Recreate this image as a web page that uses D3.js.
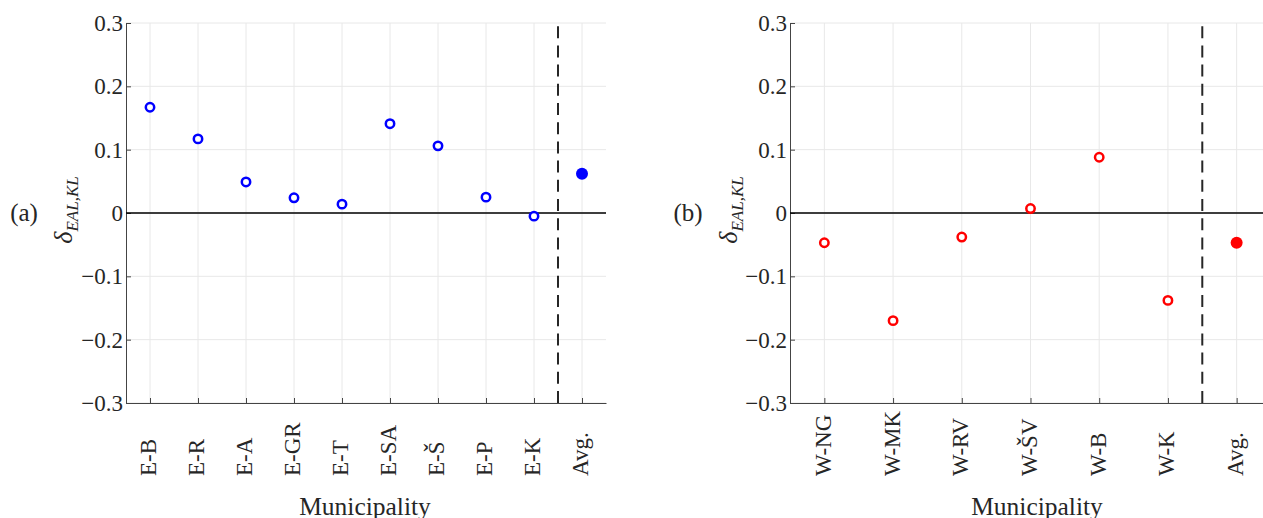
<!DOCTYPE html>
<html>
<head>
<meta charset="utf-8">
<script src="https://cdn.jsdelivr.net/npm/d3@7"></script>
<style>
  html, body { margin: 0; padding: 0; background: #fff; }
  svg { display: block; }
  text { font-family: "Liberation Serif", "DejaVu Serif", serif; fill: #262626; }
</style>
</head>
<body>
<svg id="chart" width="1263" height="518"></svg>
<script>
// Panel (a): eastern municipalities
const eastCategories = ["E-B", "E-R", "E-A", "E-GR", "E-T", "E-SA", "E-Š", "E-P", "E-K"];
const eastValues = [0.167, 0.117, 0.049, 0.024, 0.014, 0.141, 0.106, 0.025, -0.005];
const eastAverage = 0.062;

// Panel (b): western municipalities
const westCategories = ["W-NG", "W-MK", "W-RV", "W-ŠV", "W-B", "W-K"];
const westValues = [-0.047, -0.170, -0.038, 0.007, 0.088, -0.138];
const westAverage = -0.047;

const avgLabel = "Avg.";
const yTickValues = [-0.3, -0.2, -0.1, 0, 0.1, 0.2, 0.3];
const yDomain = [-0.3, 0.3];

const svg = d3.select("#chart");
svg.append("rect").attr("width", 1263).attr("height", 518).attr("fill", "#fff");

const plotTop = 23, plotBottom = 403;
const y = d3.scaleLinear().domain(yDomain).range([plotBottom, plotTop]);
const fmt = v => v === 0 ? "0" : (v < 0 ? "\u2212" : "") + Math.abs(v).toFixed(1);

function drawPanel(opt) {
  const cats = opt.categories.concat([avgLabel]);
  const x = d3.scalePoint().domain(cats).range([opt.left, opt.right]).padding(0.5);
  const g = svg.append("g");

  // grid
  g.append("g").selectAll("line").data(cats).join("line")
    .attr("x1", d => x(d)).attr("x2", d => x(d))
    .attr("y1", plotTop).attr("y2", plotBottom)
    .attr("stroke", "#e8e8e8").attr("stroke-width", 1);
  g.append("g").selectAll("line").data(yTickValues).join("line")
    .attr("x1", opt.left).attr("x2", opt.right)
    .attr("y1", d => y(d)).attr("y2", d => y(d))
    .attr("stroke", "#e8e8e8").attr("stroke-width", 1);

  // y axis (ticks pointing inward)
  const ya = g.append("g").attr("transform", `translate(${opt.left},0)`)
    .call(d3.axisLeft(y).tickValues(yTickValues).tickFormat(fmt)
      .tickSizeInner(-5).tickSizeOuter(0).tickPadding(3));
  ya.attr("font-family", null);
  ya.select(".domain").attr("stroke", "#444");
  ya.selectAll(".tick line").attr("stroke", "#444");
  ya.selectAll(".tick text").attr("font-size", 23).attr("fill", "#262626")
    .attr("font-family", "Liberation Serif");

  // x axis with vertical labels
  const xa = g.append("g").attr("transform", `translate(0,${plotBottom})`)
    .call(d3.axisBottom(x).tickSizeInner(-5).tickSizeOuter(0));
  xa.attr("font-family", null);
  xa.select(".domain").attr("stroke", "#444");
  xa.selectAll(".tick line").attr("stroke", "#444");
  xa.selectAll(".tick text")
    .attr("font-size", 23).attr("fill", "#262626").attr("font-family", "Liberation Serif")
    .attr("x", 0).attr("y", 0).attr("dy", "0.26em")
    .attr("text-anchor", "start")
    .attr("transform", "translate(0,73) rotate(-90)");

  // zero reference line
  g.append("line")
    .attr("x1", opt.left).attr("x2", opt.right)
    .attr("y1", y(0)).attr("y2", y(0))
    .attr("stroke", "#000").attr("stroke-width", 1.3);

  // separator between municipalities and the average
  const sepX = (x(cats[cats.length - 2]) + x(avgLabel)) / 2;
  g.append("line")
    .attr("x1", sepX).attr("x2", sepX)
    .attr("y1", plotBottom).attr("y2", plotTop)
    .attr("stroke", "#262626").attr("stroke-width", 2)
    .attr("stroke-dasharray", "12,7.2");

  // municipality markers
  g.append("g").selectAll("circle").data(opt.values).join("circle")
    .attr("cx", (d, i) => x(opt.categories[i]))
    .attr("cy", d => y(d))
    .attr("r", 4.2)
    .attr("fill", "#fff")
    .attr("stroke", opt.color).attr("stroke-width", 2.5);

  // average marker
  g.append("circle")
    .attr("cx", x(avgLabel)).attr("cy", y(opt.average))
    .attr("r", 6).attr("fill", opt.color);

  // axis titles
  const yl = g.append("text")
    .attr("transform", `translate(${opt.yLabelX},210) rotate(-90)`)
    .attr("text-anchor", "middle")
    .attr("font-style", "italic");
  yl.append("tspan").attr("font-size", 26).text("δ");
  yl.append("tspan").attr("font-size", 17).attr("dy", "0.35em").text("EAL,KL");

  g.append("text")
    .attr("x", opt.xLabelX).attr("y", 515)
    .attr("text-anchor", "middle").attr("font-size", 25.5)
    .text("Municipality");

  g.append("text")
    .attr("x", opt.tagX).attr("y", y(0)).attr("dy", "0.33em")
    .attr("text-anchor", "middle").attr("font-size", 25)
    .text(opt.tag);
}

drawPanel({
  categories: eastCategories, values: eastValues, average: eastAverage,
  left: 126, right: 606, color: "#0000ff",
  yLabelX: 72, xLabelX: 365, tagX: 24, tag: "(a)"
});

drawPanel({
  categories: westCategories, values: westValues, average: westAverage,
  left: 790, right: 1271, color: "#ff0000",
  yLabelX: 737, xLabelX: 1037, tagX: 688, tag: "(b)"
});
</script>
</body>
</html>
